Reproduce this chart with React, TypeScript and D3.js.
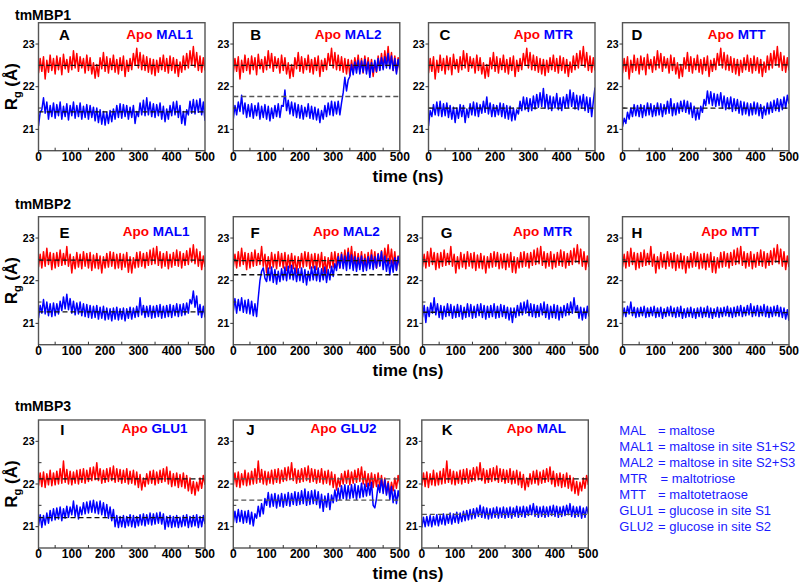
import React from "react";
import * as d3 from "d3";

const TIME_TICKS = [0, 100, 200, 300, 400, 500];
const TIME_MINOR = [50, 150, 250, 350, 450];
const RG_TICKS = [21, 22, 23];
const RG_MINOR = [21.5, 22.5];

// tmMBP1 apo (shared by A-D), Rg in Å every 5 ns
const apo1 = [
  22.32, 22.66, 22.36, 22.7, 22.18, 22.62, 22.34, 22.74, 22.38, 22.66,
  22.3, 22.72, 22.4, 22.68, 22.28, 22.76, 22.42, 22.64, 22.34, 22.7,
  22.4, 22.84, 22.44, 22.78, 22.36, 22.7, 22.44, 22.66, 22.32, 22.74,
  22.38, 22.68, 22.3, 22.56, 22.2, 22.52, 22.24, 22.68, 22.42, 22.8,
  22.36, 22.7, 22.32, 22.66, 22.4, 22.74, 22.34, 22.64, 22.3, 22.68,
  22.38, 22.72, 22.24, 22.62, 22.36, 22.66, 22.4, 22.78, 22.5, 22.9,
  22.44, 22.8, 22.4, 22.74, 22.38, 22.7, 22.34, 22.66, 22.3, 22.64,
  22.26, 22.62, 22.34, 22.68, 22.4, 22.74, 22.36, 22.66, 22.32, 22.72,
  22.38, 22.68, 22.32, 22.64, 22.24, 22.58, 22.34, 22.72, 22.4, 22.78,
  22.44, 22.84, 22.5, 22.94, 22.46, 22.8, 22.38, 22.72, 22.34, 22.68,
  22.38,
];
const mal1_1 = [
  21.08, 21.4, 21.46, 21.74, 21.38, 21.64, 21.24, 21.56, 21.3, 21.62,
  21.26, 21.58, 21.32, 21.64, 21.24, 21.54, 21.3, 21.6, 21.22, 21.56,
  21.32, 21.64, 21.26, 21.56, 21.3, 21.62, 21.24, 21.54, 21.28, 21.58,
  21.24, 21.56, 21.28, 21.52, 21.2, 21.5, 21.16, 21.46, 21.12, 21.42,
  21.1, 21.4, 21.14, 21.44, 21.18, 21.48, 21.24, 21.56, 21.28, 21.6,
  21.26, 21.58, 21.3, 21.56, 21.24, 21.52, 21.28, 21.56, 21.14, 21.42,
  21.3, 21.62, 21.34, 21.68, 21.32, 21.74, 21.34, 21.64, 21.3, 21.6,
  21.28, 21.58, 21.32, 21.62, 21.24, 21.54, 21.18, 21.48, 21.24, 21.56,
  21.32, 21.64, 21.34, 21.66, 21.28, 21.56, 21.14, 21.42, 21.1, 21.46,
  21.34, 21.66, 21.38, 21.7, 21.36, 21.68, 21.4, 21.72, 21.34, 21.64,
  21.2,
];
const mal2_1 = [
  21.24, 21.56, 21.34, 21.64, 21.42, 21.8, 21.36, 21.62, 21.28, 21.58,
  21.3, 21.6, 21.26, 21.56, 21.32, 21.62, 21.24, 21.54, 21.28, 21.58,
  21.24, 21.54, 21.2, 21.5, 21.26, 21.56, 21.3, 21.6, 21.28, 21.56,
  21.54, 21.92, 21.44, 21.68, 21.36, 21.64, 21.32, 21.62, 21.28, 21.58,
  21.26, 21.56, 21.24, 21.52, 21.3, 21.6, 21.26, 21.54, 21.24, 21.52,
  21.22, 21.48, 21.16, 21.44, 21.24, 21.56, 21.3, 21.62, 21.34, 21.66,
  21.32, 21.64, 21.36, 21.66, 21.34, 21.62, 21.86, 22.22, 21.9, 22.16,
  22.24, 22.52, 22.28, 22.58, 22.32, 22.62, 22.3, 22.6, 22.34, 22.64,
  22.3, 22.58, 22.22, 22.56, 22.34, 22.62, 22.36, 22.66, 22.38, 22.68,
  22.4, 22.7, 22.44, 22.78, 22.42, 22.72, 22.38, 22.66, 22.3, 22.64,
  22.42,
];
const mtr_1 = [
  21.08, 21.44, 21.3, 21.58, 21.34, 21.64, 21.32, 21.66, 21.3, 21.6,
  21.32, 21.62, 21.28, 21.56, 21.24, 21.52, 21.16, 21.5, 21.26, 21.58,
  21.3, 21.56, 21.16, 21.48, 21.28, 21.6, 21.34, 21.64, 21.32, 21.62,
  21.3, 21.58, 21.38, 21.66, 21.4, 21.76, 21.36, 21.62, 21.3, 21.58,
  21.3, 21.56, 21.34, 21.62, 21.3, 21.6, 21.26, 21.56, 21.24, 21.54,
  21.2, 21.5, 21.22, 21.46, 21.36, 21.66, 21.44, 21.76, 21.46, 21.74,
  21.42, 21.72, 21.44, 21.78, 21.48, 21.82, 21.52, 21.86, 21.54, 21.96,
  21.5, 21.82, 21.48, 21.78, 21.44, 21.76, 21.5, 21.84, 21.46, 21.74,
  21.44, 21.76, 21.5, 21.82, 21.52, 21.92, 21.54, 21.86, 21.48, 21.8,
  21.46, 21.78, 21.5, 21.82, 21.44, 21.76, 21.4, 21.74, 21.3, 21.66,
  21.98,
];
const mtt_1 = [
  21.06, 21.26, 21.14, 21.4, 21.24, 21.5, 21.3, 21.58, 21.32, 21.56,
  21.3, 21.58, 21.28, 21.56, 21.32, 21.62, 21.34, 21.6, 21.3, 21.56,
  21.32, 21.62, 21.34, 21.6, 21.3, 21.58, 21.36, 21.66, 21.38, 21.72,
  21.32, 21.6, 21.34, 21.62, 21.38, 21.66, 21.42, 21.68, 21.4, 21.66,
  21.36, 21.62, 21.28, 21.54, 21.22, 21.48, 21.24, 21.54, 21.4, 21.7,
  21.56, 21.9, 21.6, 21.88, 21.56, 21.84, 21.54, 21.82, 21.56, 21.86,
  21.5, 21.78, 21.46, 21.74, 21.48, 21.76, 21.42, 21.72, 21.44, 21.7,
  21.38, 21.66, 21.34, 21.64, 21.36, 21.62, 21.32, 21.6, 21.34, 21.64,
  21.36, 21.62, 21.32, 21.58, 21.26, 21.54, 21.34, 21.62, 21.36, 21.64,
  21.4, 21.68, 21.44, 21.72, 21.42, 21.7, 21.46, 21.76, 21.5, 21.8,
  21.6,
];

// tmMBP2 apo (shared by E-H)
const apo2 = [
  22.32, 22.62, 22.3, 22.68, 22.34, 22.76, 22.38, 22.66, 22.26, 22.64,
  22.3, 22.66, 22.34, 22.72, 22.36, 22.64, 22.38, 22.8, 22.34, 22.62,
  22.18, 22.56, 22.28, 22.66, 22.32, 22.62, 22.28, 22.68, 22.34, 22.64,
  22.3, 22.66, 22.24, 22.6, 22.3, 22.64, 22.28, 22.58, 22.18, 22.56,
  22.3, 22.64, 22.32, 22.68, 22.34, 22.66, 22.28, 22.62, 22.3, 22.64,
  22.26, 22.62, 22.32, 22.66, 22.2, 22.56, 22.18, 22.54, 22.3, 22.66,
  22.32, 22.68, 22.34, 22.64, 22.3, 22.66, 22.36, 22.72, 22.38, 22.76,
  22.4, 22.8, 22.36, 22.68, 22.3, 22.64, 22.34, 22.68, 22.28, 22.62,
  22.32, 22.66, 22.36, 22.72, 22.34, 22.68, 22.3, 22.64, 22.36, 22.7,
  22.38, 22.76, 22.44, 22.84, 22.4, 22.74, 22.34, 22.68, 22.26, 22.58,
  22.32,
];
const mal1_2 = [
  21.12, 21.42, 21.24, 21.56, 21.22, 21.5, 21.18, 21.46, 21.16, 21.48,
  21.18, 21.46, 21.22, 21.52, 21.3, 21.62, 21.34, 21.68, 21.32, 21.58,
  21.24, 21.52, 21.2, 21.48, 21.22, 21.5, 21.18, 21.46, 21.16, 21.44,
  21.14, 21.42, 21.12, 21.4, 21.14, 21.42, 21.1, 21.38, 21.12, 21.4,
  21.08, 21.36, 21.1, 21.34, 21.06, 21.36, 21.1, 21.38, 21.08, 21.34,
  21.1, 21.36, 21.06, 21.34, 21.12, 21.38, 21.1, 21.36, 21.14, 21.4,
  21.16, 21.6, 21.2, 21.42, 21.14, 21.4, 21.16, 21.42, 21.12, 21.4,
  21.14, 21.42, 21.16, 21.44, 21.12, 21.4, 21.14, 21.42, 21.16, 21.44,
  21.14, 21.42, 21.18, 21.46, 21.16, 21.44, 21.18, 21.46, 21.2, 21.48,
  21.24, 21.56, 21.46, 21.76, 21.38, 21.64, 21.2, 21.44, 21.14, 21.4,
  21.14,
];
const mal2_2 = [
  21.28, 21.58, 21.24, 21.56, 21.3, 21.6, 21.26, 21.54, 21.24, 21.56,
  21.22, 21.52, 21.18, 21.46, 21.16, 21.6, 22.0, 22.22, 22.3, 22.06,
  21.98, 22.3, 22.0, 22.32, 21.96, 22.26, 21.92, 22.22, 21.98, 22.28,
  22.02, 22.32, 22.0, 22.34, 22.04, 22.36, 22.02, 22.3, 21.98, 22.28,
  22.0, 22.3, 21.96, 22.26, 21.9, 22.22, 22.0, 22.32, 22.02, 22.34,
  22.0, 22.3, 21.98, 22.28, 22.02, 22.32, 21.96, 22.26, 22.02, 22.34,
  22.1, 22.4, 22.24, 22.56, 22.3, 22.62, 22.28, 22.58, 22.24, 22.66,
  22.28, 22.6, 22.24, 22.56, 22.22, 22.54, 22.26, 22.58, 22.22, 22.52,
  22.24, 22.56, 22.28, 22.6, 22.26, 22.56, 22.3, 22.62, 22.34, 22.68,
  22.26, 22.58, 22.22, 22.52, 22.14, 22.48, 22.2, 22.54, 22.24, 22.56,
  22.34,
];
const mtr_2 = [
  21.14, 21.42, 21.02, 21.38, 21.16, 21.48, 21.24, 21.6, 21.2, 21.46,
  21.14, 21.42, 21.1, 21.4, 21.16, 21.46, 21.18, 21.44, 21.12, 21.4,
  21.14, 21.44, 21.16, 21.42, 21.1, 21.38, 21.14, 21.46, 21.16, 21.44,
  21.12, 21.4, 21.14, 21.44, 21.18, 21.46, 21.14, 21.42, 21.1, 21.4,
  21.14, 21.42, 21.16, 21.46, 21.12, 21.4, 21.14, 21.44, 21.16, 21.42,
  21.12, 21.38, 21.08, 21.36, 21.02, 21.36, 21.14, 21.42, 21.18, 21.48,
  21.2, 21.5, 21.24, 21.54, 21.18, 21.46, 21.16, 21.44, 21.14, 21.42,
  21.16, 21.46, 21.2, 21.5, 21.14, 21.44, 21.1, 21.4, 21.14, 21.44,
  21.12, 21.42, 21.08, 21.38, 21.14, 21.42, 21.18, 21.46, 21.2, 21.5,
  21.24, 21.6, 21.26, 21.42, 21.12, 21.38, 21.08, 21.36, 21.12, 21.4,
  21.16,
];
const mtt_2 = [
  21.14, 21.36, 21.16, 21.4, 21.22, 21.5, 21.18, 21.38, 21.14, 21.36,
  21.16, 21.38, 21.18, 21.4, 21.14, 21.36, 21.16, 21.38, 21.18, 21.4,
  21.14, 21.36, 21.16, 21.38, 21.12, 21.34, 21.16, 21.38, 21.18, 21.4,
  21.16, 21.36, 21.14, 21.38, 21.16, 21.4, 21.12, 21.34, 21.14, 21.36,
  21.16, 21.38, 21.14, 21.34, 21.12, 21.36, 21.16, 21.38, 21.14, 21.36,
  21.16, 21.4, 21.14, 21.36, 21.12, 21.34, 21.16, 21.38, 21.14, 21.36,
  21.16, 21.38, 21.18, 21.4, 21.16, 21.36, 21.14, 21.38, 21.16, 21.4,
  21.18, 21.42, 21.16, 21.38, 21.18, 21.42, 21.2, 21.46, 21.16, 21.4,
  21.18, 21.42, 21.16, 21.4, 21.18, 21.44, 21.16, 21.4, 21.14, 21.38,
  21.16, 21.4, 21.18, 21.42, 21.16, 21.38, 21.14, 21.36, 21.1, 21.32,
  21.06,
];

// tmMBP3 apo (shared by I-K)
const apo3 = [
  21.96, 22.26, 21.94, 22.28, 21.92, 22.24, 21.98, 22.32, 21.96, 22.26,
  21.98, 22.3, 22.0, 22.36, 22.02, 22.54, 22.04, 22.34, 22.0, 22.3,
  21.98, 22.28, 22.02, 22.32, 22.0, 22.34, 22.04, 22.36, 22.02, 22.32,
  22.06, 22.38, 22.08, 22.4, 22.1, 22.5, 22.08, 22.36, 22.02, 22.32,
  22.04, 22.36, 22.06, 22.38, 22.08, 22.42, 22.04, 22.36, 22.06, 22.34,
  22.02, 22.32, 22.04, 22.36, 22.0, 22.3, 22.02, 22.32, 21.98, 22.28,
  21.92, 22.22, 21.86, 22.14, 21.94, 22.24, 22.0, 22.3, 22.02, 22.32,
  21.98, 22.28, 22.02, 22.32, 22.04, 22.36, 22.06, 22.4, 22.0, 22.3,
  21.94, 22.24, 21.96, 22.26, 21.92, 22.22, 21.94, 22.26, 21.9, 22.2,
  21.84, 22.14, 21.78, 22.06, 21.74, 22.04, 21.84, 22.14, 21.9, 22.2,
  21.98,
];
const glu1_3 = [
  21.02, 21.28, 20.98, 21.26, 21.04, 21.32, 21.08, 21.38, 21.14, 21.42,
  21.16, 21.44, 21.18, 21.46, 21.14, 21.42, 21.2, 21.48, 21.22, 21.46,
  21.28, 21.6, 21.24, 21.5, 21.18, 21.46, 21.28, 21.56, 21.3, 21.58,
  21.32, 21.6, 21.34, 21.62, 21.32, 21.58, 21.3, 21.6, 21.28, 21.56,
  21.24, 21.52, 21.2, 21.46, 21.14, 21.4, 21.0, 21.26, 20.98, 21.24,
  21.0, 21.26, 20.98, 21.24, 21.02, 21.28, 21.0, 21.26, 20.98, 21.24,
  21.02, 21.28, 21.04, 21.3, 21.02, 21.28, 21.06, 21.32, 21.04, 21.3,
  21.06, 21.32, 21.08, 21.34, 21.06, 21.3, 20.94, 21.24, 21.0, 21.26,
  20.98, 21.24, 21.0, 21.26, 20.98, 21.22, 21.0, 21.26, 21.02, 21.28,
  20.98, 21.24, 21.0, 21.26, 21.02, 21.28, 20.98, 21.24, 21.0, 21.26,
  21.06,
];
const glu2_3 = [
  21.08, 21.36, 21.1, 21.4, 21.12, 21.38, 21.08, 21.36, 21.1, 21.38,
  21.06, 21.34, 21.02, 21.3, 21.2, 21.48, 21.24, 21.54, 21.3, 21.66,
  21.5, 21.8, 21.46, 21.76, 21.48, 21.78, 21.44, 21.74, 21.48, 21.78,
  21.46, 21.76, 21.5, 21.8, 21.48, 21.78, 21.52, 21.82, 21.5, 21.8,
  21.52, 21.84, 21.54, 21.88, 21.5, 21.82, 21.52, 21.84, 21.54, 21.86,
  21.52, 21.82, 21.44, 21.76, 21.36, 21.72, 21.46, 21.78, 21.4, 21.74,
  21.56, 21.86, 21.6, 21.9, 21.64, 21.96, 21.66, 21.98, 21.64, 21.96,
  21.66, 21.98, 21.68, 22.0, 21.64, 21.96, 21.68, 22.02, 21.7, 22.0,
  21.72, 22.02, 21.74, 22.04, 21.5, 21.44, 21.66, 21.98, 21.8, 22.12,
  21.78, 22.1, 21.74, 22.02, 21.64, 21.94, 21.56, 21.86, 21.54, 21.84,
  21.62,
];
const mal_3 = [
  20.98, 21.22, 21.0, 21.24, 21.02, 21.26, 21.0, 21.24, 21.04, 21.28,
  21.02, 21.26, 21.06, 21.3, 21.04, 21.28, 21.08, 21.32, 21.06, 21.3,
  21.1, 21.34, 21.08, 21.32, 21.12, 21.36, 21.14, 21.38, 21.16, 21.4,
  21.18, 21.42, 21.2, 21.44, 21.24, 21.5, 21.22, 21.46, 21.2, 21.44,
  21.18, 21.42, 21.2, 21.44, 21.22, 21.46, 21.2, 21.44, 21.22, 21.46,
  21.2, 21.44, 21.22, 21.46, 21.2, 21.44, 21.24, 21.48, 21.22, 21.46,
  21.24, 21.48, 21.22, 21.46, 21.26, 21.5, 21.28, 21.54, 21.24, 21.48,
  21.22, 21.46, 21.24, 21.48, 21.22, 21.46, 21.24, 21.48, 21.26, 21.5,
  21.24, 21.48, 21.22, 21.46, 21.24, 21.48, 21.26, 21.5, 21.28, 21.54,
  21.24, 21.48, 21.22, 21.46, 21.24, 21.48, 21.2, 21.44, 21.22, 21.46,
  21.3,
];

const ROW_TITLES = ["tmMBP1", "tmMBP2", "tmMBP3"];
const LEGEND_ABBR = ["MAL", "MAL1", "MAL2", "MTR", "MTT", "GLU1", "GLU2"];
const LEGEND_DESC = [
  "= maltose",
  "= maltose in site S1+S2",
  "= maltose in site S2+S3",
  "= maltotriose",
  "= maltotetraose",
  "= glucose in site S1",
  "= glucose in site S2",
];

// panel data: letter, ligand name, apo series, ligand series, mean lines
const PANELS = [
  { letter: "A", lig: "MAL1", apo: apo1, holo: mal1_1, apoMean: 22.5, holoMean: 21.41 },
  { letter: "B", lig: "MAL2", apo: apo1, holo: mal2_1, apoMean: 22.5, holoMean: 21.77 },
  { letter: "C", lig: "MTR", apo: apo1, holo: mtr_1, apoMean: 22.5, holoMean: 21.5 },
  { letter: "D", lig: "MTT", apo: apo1, holo: mtt_1, apoMean: 22.51, holoMean: 21.5 },
  { letter: "E", lig: "MAL1", apo: apo2, holo: mal1_2, apoMean: 22.48, holoMean: 21.27 },
  { letter: "F", lig: "MAL2", apo: apo2, holo: mal2_2, apoMean: 22.47, holoMean: 22.14 },
  { letter: "G", lig: "MTR", apo: apo2, holo: mtr_2, apoMean: 22.45, holoMean: 21.26 },
  { letter: "H", lig: "MTT", apo: apo2, holo: mtt_2, apoMean: 22.45, holoMean: 21.25 },
  { letter: "I", lig: "GLU1", apo: apo3, holo: glu1_3, apoMean: 22.12, holoMean: 21.21 },
  { letter: "J", lig: "GLU2", apo: apo3, holo: glu2_3, apoMean: 22.12, holoMean: 21.62 },
  { letter: "K", lig: "MAL", apo: apo3, holo: mal_3, apoMean: 22.12, holoMean: 21.29 },
];

// layout (positions / styling only)
const ROW_TOP = [22.7, 216.7, 420];
const PANEL_H = 128;
const PANEL_W = 166.5;
const PANEL_LEFT: Record<string, number> = {
  A: 38.5, B: 233.3, C: 428.5, D: 622.5,
  E: 38.5, F: 233.3, G: 422.5, H: 622.5,
  I: 38.5, J: 233.3, K: 421.8,
};
const PANEL_ROW: Record<string, number> = {
  A: 0, B: 0, C: 0, D: 0, E: 1, F: 1, G: 1, H: 1, I: 2, J: 2, K: 2,
};
const LETTER_DX: Record<string, number> = {
  A: 20.5, B: 17, C: 11, D: 9, E: 21, F: 17.3, G: 18.3, H: 9, I: 21.7, J: 13, K: 20,
};
const LABEL_END_DX: Record<string, number> = {
  A: 12, B: 18.3, C: 22, D: 23.6, E: 15.4, F: 20, G: 16.7, H: 30, I: 17.4, J: 23.3, K: 22.3,
};
const GRAY_DASH: Record<string, [boolean, boolean]> = {
  B: [false, true], J: [true, true], K: [false, true],
};
const LETTER_DY = [17.3, 21.5, 15];
const LABEL_DY = [16.7, 19.5, 12.7];
const TITLE_Y = [20, 209, 411];

const FONT = "'Liberation Sans', Arial, Helvetica, sans-serif";
const RED = "#ff0000";
const BLUE = "#0000ff";

function Panel({ p }: { p: (typeof PANELS)[number] }) {
  const row = PANEL_ROW[p.letter];
  const x0 = PANEL_LEFT[p.letter];
  const y0 = ROW_TOP[row];
  const x = d3.scaleLinear().domain([0, 500]).range([x0, x0 + PANEL_W]);
  const y = d3.scaleLinear().domain([20.5, 23.5]).range([y0 + PANEL_H, y0]);
  const mkLine = (arr: number[]) => {
    const n = arr.length;
    return (
      d3
        .line<number>()
        .x((_, i) => x((i * 500) / (n - 1)))
        .y((v) => y(v))(arr) || ""
    );
  };
  const gray = GRAY_DASH[p.letter] || [false, false];
  const clipId = `clip-${p.letter}`;
  return (
    <g>
      <defs>
        <clipPath id={clipId}>
          <rect x={x0} y={y0} width={PANEL_W} height={PANEL_H} />
        </clipPath>
      </defs>
      <g clipPath={`url(#${clipId})`}>
        <path d={mkLine(p.apo)} fill="none" stroke={RED} strokeWidth={1.5} strokeLinejoin="round" />
        <path d={mkLine(p.holo)} fill="none" stroke={BLUE} strokeWidth={1.5} strokeLinejoin="round" />
        {[p.apoMean, p.holoMean].map((m, i) => (
          <line
            key={i}
            x1={x(0)}
            x2={x(500)}
            y1={y(m)}
            y2={y(m)}
            stroke={gray[i] ? "#555" : "#111"}
            strokeWidth={1.3}
            strokeDasharray="5,3"
          />
        ))}
      </g>
      <rect x={x0} y={y0} width={PANEL_W} height={PANEL_H} fill="none" stroke="#555" strokeWidth={1.4} />
      {TIME_TICKS.map((t) => (
        <g key={`xt${t}`}>
          <line x1={x(t)} x2={x(t)} y1={y0 + PANEL_H} y2={y0 + PANEL_H + 2.5} stroke="#333" strokeWidth={1} />
          <text x={x(t)} y={y0 + PANEL_H + 10} textAnchor="middle" fontSize={12} fontWeight="bold" fontFamily={FONT} fill="#000">
            {t}
          </text>
        </g>
      ))}
      {TIME_MINOR.map((t) => (
        <line key={`xm${t}`} x1={x(t)} x2={x(t)} y1={y0 + PANEL_H} y2={y0 + PANEL_H - 3} stroke="#333" strokeWidth={1} />
      ))}
      {RG_TICKS.map((v) => (
        <g key={`yt${v}`}>
          <line x1={x0 - 3} x2={x0} y1={y(v)} y2={y(v)} stroke="#333" strokeWidth={1} />
          <text x={x0 - 4} y={y(v)} dy="0.36em" textAnchor="end" fontSize={10.5} fontWeight="bold" fontFamily={FONT} fill="#000">
            {v}
          </text>
        </g>
      ))}
      {RG_MINOR.map((v) => (
        <line key={`ym${v}`} x1={x0} x2={x0 + 3} y1={y(v)} y2={y(v)} stroke="#333" strokeWidth={1} />
      ))}
      <text x={x0 + LETTER_DX[p.letter]} y={y0 + LETTER_DY[row]} fontSize={15} fontWeight="bold" fontFamily={FONT} fill="#000">
        {p.letter}
      </text>
      <text
        x={x0 + PANEL_W - LABEL_END_DX[p.letter]}
        y={y0 + LABEL_DY[row]}
        textAnchor="end"
        fontSize={13.5}
        fontWeight="bold"
        fontFamily={FONT}
      >
        <tspan fill={RED}>Apo </tspan>
        <tspan fill={BLUE}>{p.lig}</tspan>
      </text>
    </g>
  );
}

export default function App() {
  return (
    <svg
      width={800}
      height={586}
      viewBox="0 0 800 586"
      style={{ position: "absolute", left: 0, top: 0, background: "#fff", display: "block" }}
    >
      <rect x={0} y={0} width={800} height={586} fill="#fff" />
      {ROW_TITLES.map((t, i) => (
        <text key={t} x={15} y={TITLE_Y[i]} fontSize={14} fontWeight="bold" fontFamily={FONT} fill="#000">
          {t}
        </text>
      ))}
      {PANELS.map((p) => (
        <Panel key={p.letter} p={p} />
      ))}
      {ROW_TOP.map((top, i) => (
        <g key={`ax${i}`}>
          <text
            transform={`translate(17,${top + PANEL_H / 2}) rotate(-90)`}
            textAnchor="middle"
            fontSize={17}
            fontWeight="bold"
            fontFamily={FONT}
            fill="#000"
          >
            R
            <tspan fontSize={11} dy={4}>g</tspan>
            <tspan dy={-4}> (Å)</tspan>
          </text>
          <text x={408} y={top + PANEL_H + 31} textAnchor="middle" fontSize={17} fontWeight="bold" fontFamily={FONT} fill="#000">
            time (ns)
          </text>
        </g>
      ))}
      {LEGEND_ABBR.map((a, i) => (
        <g key={a}>
          <text x={619.3} y={435 + i * 16} fontSize={13} fontFamily={FONT} fill="#1a1aff">
            {a}
          </text>
          <text x={a === "MTR" ? 660.5 : 658} y={435 + i * 16} fontSize={13} fontFamily={FONT} fill="#1a1aff">
            {LEGEND_DESC[i]}
          </text>
        </g>
      ))}
    </svg>
  );
}
